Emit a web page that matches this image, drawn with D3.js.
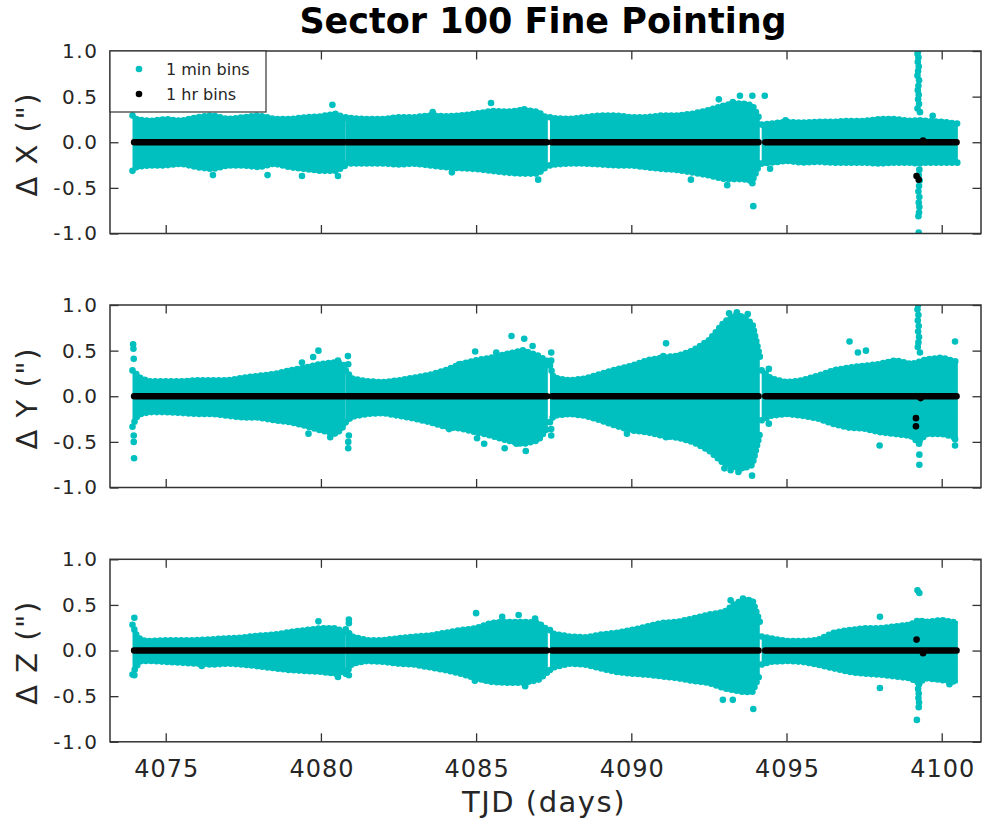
<!DOCTYPE html>
<html><head><meta charset="utf-8">
<script src="https://cdn.jsdelivr.net/npm/d3@7/dist/d3.min.js"></script>
<style>body{margin:0;background:#fff} text{font-family:"DejaVu Sans",sans-serif}</style>
</head><body><svg id="c" width="982" height="824"></svg>
<script>
// ---------------- DATA ----------------
const title = "Sector 100 Fine Pointing";
const xLabel = "TJD (days)";
const panelLabels = ["\u0394 X (\")", "\u0394 Y (\")", "\u0394 Z (\")"];
const xTickValues = [4075, 4080, 4085, 4090, 4095, 4100];
const xTickLabels = ["4075", "4080", "4085", "4090", "4095", "4100"];
const yTickValues = [-1, -0.5, 0, 0.5, 1];
const yTickLabels = ["-1.0", "-0.5", "0.0", "0.5", "1.0"];
const legendLabels = ["1 min bins", "1 hr bins"];

// times (TJD) at which the envelope of the 1-min cloud was read, per orbit segment
const envTimes = [
  [4073.93,4074.05,4074.2,4074.5,4075,4075.5,4076,4076.5,4077,4077.5,4078,4078.5,4079,4079.5,4080,4080.5,4080.8],
  [4080.8,4081,4081.5,4082,4082.5,4083,4083.5,4084,4084.5,4085,4085.5,4086,4086.5,4087,4087.31],
  [4087.38,4087.5,4088,4088.5,4089,4089.5,4090,4090.5,4091,4091.5,4092,4092.5,4093,4093.3,4093.6,4093.9,4094.14],
  [4094.2,4094.5,4095,4095.5,4096,4096.5,4097,4097.5,4098,4098.5,4099,4099.25,4099.5,4100,4100.52]
];
// upper / lower extent of the 1-min cloud (arcsec)
const xUpper = [
  [0.31,0.27,0.26,0.25,0.27,0.25,0.29,0.31,0.27,0.29,0.31,0.27,0.27,0.29,0.30,0.33,0.27],
  [0.29,0.28,0.27,0.27,0.29,0.29,0.31,0.30,0.31,0.33,0.36,0.35,0.37,0.35,0.27],
  [0.29,0.28,0.27,0.29,0.31,0.31,0.29,0.29,0.31,0.31,0.33,0.37,0.42,0.44,0.44,0.42,0.27],
  [0.21,0.22,0.24,0.23,0.24,0.24,0.25,0.25,0.27,0.27,0.25,0.26,0.25,0.24,0.22]
];
const xLower = [
  [-0.33,-0.29,-0.28,-0.27,-0.27,-0.25,-0.29,-0.31,-0.27,-0.27,-0.29,-0.25,-0.29,-0.31,-0.33,-0.33,-0.27],
  [-0.25,-0.25,-0.25,-0.25,-0.26,-0.25,-0.27,-0.29,-0.30,-0.31,-0.33,-0.35,-0.36,-0.36,-0.27],
  [-0.27,-0.26,-0.25,-0.25,-0.26,-0.27,-0.27,-0.29,-0.31,-0.32,-0.35,-0.38,-0.42,-0.42,-0.42,-0.44,-0.25],
  [-0.25,-0.24,-0.22,-0.24,-0.23,-0.24,-0.24,-0.24,-0.25,-0.24,-0.24,-0.25,-0.24,-0.24,-0.24]
];
const yUpper = [
  [0.30,0.26,0.21,0.18,0.18,0.18,0.19,0.19,0.19,0.22,0.24,0.26,0.30,0.33,0.37,0.39,0.35],
  [0.30,0.21,0.18,0.17,0.19,0.22,0.25,0.30,0.37,0.41,0.44,0.48,0.52,0.46,0.40],
  [0.35,0.22,0.19,0.21,0.26,0.31,0.35,0.41,0.44,0.46,0.52,0.63,0.83,0.90,0.89,0.81,0.45],
  [0.30,0.21,0.17,0.19,0.24,0.30,0.33,0.35,0.37,0.41,0.37,0.39,0.42,0.44,0.39]
];
const yLower = [
  [-0.35,-0.25,-0.21,-0.19,-0.19,-0.20,-0.21,-0.21,-0.23,-0.25,-0.25,-0.28,-0.30,-0.34,-0.39,-0.43,-0.32],
  [-0.30,-0.24,-0.21,-0.20,-0.23,-0.26,-0.30,-0.35,-0.37,-0.41,-0.45,-0.50,-0.54,-0.50,-0.36],
  [-0.30,-0.23,-0.21,-0.23,-0.28,-0.34,-0.39,-0.41,-0.45,-0.47,-0.52,-0.61,-0.76,-0.79,-0.81,-0.77,-0.43],
  [-0.28,-0.23,-0.21,-0.23,-0.26,-0.32,-0.36,-0.37,-0.41,-0.43,-0.45,-0.52,-0.43,-0.43,-0.47]
];
const zUpper = [
  [0.30,0.19,0.13,0.12,0.13,0.13,0.13,0.14,0.15,0.16,0.18,0.19,0.22,0.24,0.26,0.26,0.21],
  [0.25,0.17,0.13,0.13,0.15,0.17,0.18,0.21,0.24,0.26,0.32,0.33,0.33,0.32,0.24],
  [0.24,0.20,0.17,0.16,0.19,0.21,0.24,0.28,0.32,0.33,0.37,0.41,0.44,0.52,0.57,0.57,0.33],
  [0.17,0.15,0.12,0.12,0.13,0.21,0.24,0.26,0.26,0.28,0.30,0.35,0.33,0.35,0.32]
];
const zLower = [
  [-0.28,-0.19,-0.13,-0.13,-0.14,-0.15,-0.16,-0.17,-0.16,-0.17,-0.19,-0.21,-0.23,-0.24,-0.25,-0.27,-0.23],
  [-0.27,-0.16,-0.13,-0.14,-0.16,-0.17,-0.20,-0.23,-0.27,-0.32,-0.36,-0.37,-0.37,-0.34,-0.25],
  [-0.23,-0.20,-0.16,-0.17,-0.21,-0.25,-0.27,-0.28,-0.30,-0.32,-0.35,-0.37,-0.43,-0.45,-0.47,-0.47,-0.28],
  [-0.17,-0.14,-0.13,-0.14,-0.17,-0.21,-0.25,-0.27,-0.28,-0.30,-0.32,-0.37,-0.32,-0.34,-0.36]
];
// individual 1-min points outside the dense cloud [TJD, arcsec]
const xOutliers = [
  [4080.37,0.41],[4085.48,0.43],[4083.6,0.33],[4086.55,0.36],[4076.52,-0.36],[4078.28,-0.36],
  [4079.39,-0.37],[4080.55,-0.37],[4087.0,-0.41],[4084.22,-0.33],[4092.82,0.47],[4093.5,0.51],
  [4093.9,0.51],[4093.27,0.44],[4094.3,0.51],[4091.92,-0.41],[4093.09,-0.47],[4093.9,-0.45],
  [4093.93,-0.70],[4094.47,-0.29],[4099.71,0.29],[4094.97,0.24],
  [4099.24,1.0],[4099.22,0.97],[4099.25,0.93],[4099.23,0.88],[4099.26,0.83],[4099.24,0.78],
  [4099.22,0.73],[4099.27,0.68],[4099.25,0.62],[4099.23,0.57],[4099.26,0.52],[4099.24,0.47],
  [4099.27,0.42],[4099.22,0.37],[4099.3,0.33],
  [4099.28,-0.30],[4099.26,-0.36],[4099.29,-0.42],[4099.27,-0.48],[4099.25,-0.54],[4099.28,-0.60],
  [4099.26,-0.66],[4099.28,-0.71],[4099.27,-0.77],[4099.25,-0.81],[4099.26,-0.99]
];
const yOutliers = [
  [4073.95,0.57],[4073.96,0.52],[4073.97,0.41],[4073.97,-0.43],[4073.97,-0.50],[4073.98,-0.68],
  [4079.92,0.50],[4079.75,0.43],[4079.39,0.37],[4080.55,0.39],
  [4080.87,0.44],[4080.88,0.35],[4080.88,-0.50],[4080.88,-0.57],[4080.9,-0.43],
  [4079.6,-0.41],[4080.3,-0.45],
  [4086.14,0.66],[4086.55,0.63],[4086.82,0.55],[4084.97,0.49],[4085.65,0.48],[4084.45,0.35],
  [4084.13,-0.36],[4085.03,-0.46],[4085.26,-0.52],[4085.92,-0.57],[4086.6,-0.60],[4086.3,-0.52],
  [4087.42,0.48],[4087.42,0.39],[4087.42,-0.43],[4087.42,-0.36],
  [4091.12,0.58],[4091.03,0.44],[4089.86,-0.41],[4091.12,-0.45],
  [4093.15,0.91],[4093.4,0.92],[4093.75,0.90],[4093.6,0.86],
  [4093.0,-0.79],[4093.2,-0.81],[4093.6,-0.78],[4093.89,-0.87],[4093.45,-0.83],
  [4094.43,0.30],[4094.43,-0.30],
  [4097.03,0.60],[4097.3,0.48],[4097.56,0.50],[4098.0,-0.54],[4100.43,0.60],[4100.43,-0.54],[4100.43,-0.47],
  [4099.24,1.0],[4099.22,0.95],[4099.25,0.89],[4099.23,0.83],[4099.26,0.77],[4099.24,0.71],
  [4099.27,0.65],[4099.25,0.59],[4099.23,0.54],[4099.3,0.48],
  [4099.27,-0.52],[4099.28,-0.64],[4099.28,-0.75]
];
const zOutliers = [
  [4073.99,0.36],[4073.99,-0.27],[4076.16,-0.17],[4079.92,0.32],[4080.55,-0.29],[4080.9,0.34],
  [4080.9,0.30],[4080.9,-0.27],[4085.0,0.41],[4085.84,0.37],[4086.37,0.39],[4086.9,0.35],
  [4084.96,-0.33],[4085.27,-0.32],[4086.58,-0.39],[4092.95,-0.54],[4093.27,-0.54],[4093.93,-0.64],
  [4093.2,0.55],[4093.6,0.57],[4098.01,0.37],[4098.01,-0.41],[4100.25,-0.37],
  [4099.22,0.66],[4099.28,0.63],
  [4099.25,-0.32],[4099.27,-0.37],[4099.24,-0.42],[4099.26,-0.47],[4099.25,-0.52],[4099.27,-0.57],
  [4099.26,-0.62],[4099.2,-0.76]
];
// 1-hr bins: continuous runs at ~0 per orbit segment, and the deviating bins
const hrSegments = [[4073.98,4080.76],[4080.84,4087.28],[4087.44,4094.10],[4094.31,4100.48]];
const hrLevel = [0.0, 0.0, 0.0];
const xHrPoints = [[4099.19,-0.37],[4099.26,-0.41],[4099.40,0.02]];
const yHrPoints = [[4099.17,-0.24],[4099.17,-0.33],[4099.32,-0.02]];
const zHrPoints = [[4099.19,0.12],[4099.40,-0.03]];

// ---------------- CHART ----------------
const upper = [xUpper, yUpper, zUpper];
const lower = [xLower, yLower, zLower];
const outliers = [xOutliers, yOutliers, zOutliers];
const hrPoints = [xHrPoints, yHrPoints, zHrPoints];

const CYAN = "#00bfbf", SPINE = "#333333", TXT = "#262626";
const L = 110, R = 981, H = 182.5;
const tops = [51, 305, 559.3];
const svg = d3.select("#c");

const x = d3.scaleLinear().domain([4073.205, 4101.266]).range([L, R]);

svg.append("text").attr("x", 543).attr("y", 33).attr("text-anchor", "middle")
  .attr("font-size", 35).attr("font-weight", "bold").attr("fill", "#000").text(title);

const YLS = 1.6, XLS = 1.0;
panelLabels.forEach((lab, p) => {
  const top = tops[p];
  const y = d3.scaleLinear().domain([-1, 1]).range([top + H, top]);
  const g = svg.append("g");
  const cid = "clip" + p;
  svg.append("clipPath").attr("id", cid).append("rect")
    .attr("x", L).attr("y", top).attr("width", R - L).attr("height", H);
  const plot = g.append("g").attr("clip-path", `url(#${cid})`);

  // 1-min cloud: filled extent, its upper and lower edges beaded with marker-sized dots
  envTimes.forEach((ts, s) => {
    const pts = ts.map((t, i) => ({t, hi: upper[p][s][i], lo: lower[p][s][i]}));
    const area = d3.area().x(d => x(d.t)).y0(d => y(d.lo) - 1.5).y1(d => y(d.hi) + 1.5).curve(d3.curveLinear);
    plot.append("path").attr("d", area(pts)).attr("fill", CYAN);
    const hiLine = d3.line().x(d => x(d.t)).y(d => y(d.hi) + 1.5);
    const loLine = d3.line().x(d => x(d.t)).y(d => y(d.lo) - 1.5);
    [hiLine, loLine].forEach(ln => {
      plot.append("path").attr("d", ln(pts)).attr("fill", "none")
        .attr("stroke", CYAN).attr("stroke-width", 3).attr("stroke-linejoin", "round");
      plot.append("path").attr("d", ln(pts)).attr("fill", "none")
        .attr("stroke", CYAN).attr("stroke-width", 6.6).attr("stroke-linecap", "round")
        .attr("stroke-dasharray", "0 5.3");
    });
  });
  plot.selectAll(null).data(outliers[p]).enter().append("circle")
    .attr("cx", d => x(d[0])).attr("cy", d => y(d[1])).attr("r", 3.3).attr("fill", CYAN);

  // 1-hr bins
  hrSegments.forEach(seg => {
    plot.append("line").attr("x1", x(seg[0])).attr("x2", x(seg[1]))
      .attr("y1", y(hrLevel[p])).attr("y2", y(hrLevel[p]))
      .attr("stroke", "#000").attr("stroke-width", 6.4).attr("stroke-linecap", "round");
  });
  plot.selectAll(null).data(hrPoints[p]).enter().append("circle")
    .attr("cx", d => x(d[0])).attr("cy", d => y(d[1])).attr("r", 3.3).attr("fill", "#000");

  // axes (ticks inward on all sides)
  const ax = [
    d3.axisLeft(y).tickValues(yTickValues).tickFormat((d, i) => yTickLabels[i]).tickSizeInner(-8.5).tickSizeOuter(0).tickPadding(13),
    d3.axisRight(y).tickValues(yTickValues).tickFormat("").tickSizeInner(-8.5).tickSizeOuter(0),
    d3.axisTop(x).tickValues(xTickValues).tickFormat("").tickSizeInner(-8.5).tickSizeOuter(0),
    d3.axisBottom(x).tickValues(xTickValues).tickFormat((d, i) => p === 2 ? xTickLabels[i] : "").tickSizeInner(-8.5).tickSizeOuter(0).tickPadding(18)
  ];
  const pos = [[L, 0], [R, 0], [0, top], [0, top + H]];
  ax.forEach((a, k) => {
    const ga = g.append("g").attr("transform", `translate(${pos[k][0]},${pos[k][1]})`).call(a);
    ga.select(".domain").remove();
    ga.selectAll(".tick line").attr("stroke", SPINE).attr("stroke-width", 1.3);
    const tt = ga.selectAll(".tick text").attr("fill", TXT).attr("font-family", "DejaVu Sans");
    if (k === 0) tt.attr("font-size", 20).attr("letter-spacing", YLS).attr("dx", YLS);
    if (k === 3) tt.attr("font-size", 24).attr("letter-spacing", XLS).attr("dx", XLS / 2);
  });
  g.append("rect").attr("x", L).attr("y", top).attr("width", R - L).attr("height", H)
    .attr("fill", "none").attr("stroke", SPINE).attr("stroke-width", 1.5);

  svg.append("text").attr("transform", `translate(37,${top + H / 2 + 2}) rotate(-90)`)
    .attr("text-anchor", "middle").attr("font-size", 29).attr("letter-spacing", 1.5)
    .attr("fill", TXT).text(lab);

  if (p === 0) {
    const lg = svg.append("g");
    lg.append("rect").attr("x", L).attr("y", top).attr("width", 156).attr("height", 61)
      .attr("fill", "#fff").attr("stroke", SPINE).attr("stroke-width", 1.2);
    [CYAN, "#000"].forEach((c, i) => {
      lg.append("circle").attr("cx", 139).attr("cy", 69 + 25 * i).attr("r", 3.3).attr("fill", c);
      lg.append("text").attr("x", 166).attr("y", 74.5 + 25 * i).attr("font-size", 16)
        .attr("fill", TXT).text(legendLabels[i]);
    });
  }
});

svg.append("text").attr("x", 544).attr("y", 812).attr("text-anchor", "middle")
  .attr("font-size", 29).attr("letter-spacing", 1.5).attr("fill", TXT).text(xLabel);
</script></body></html>
